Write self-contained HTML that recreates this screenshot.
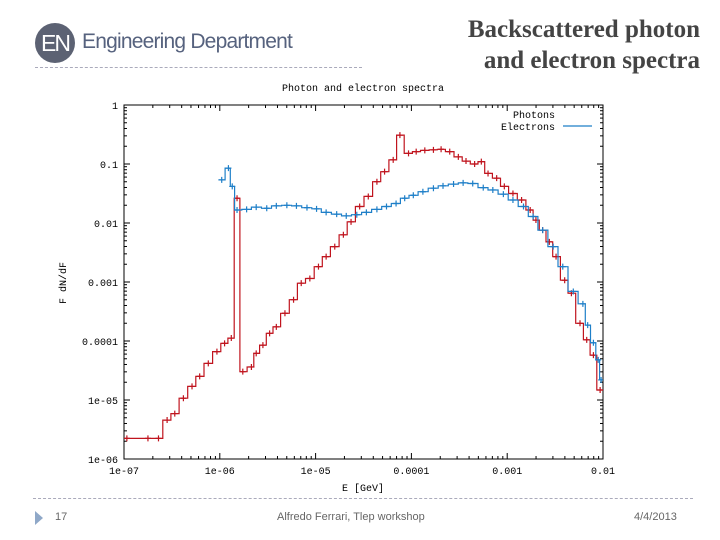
<!DOCTYPE html>
<html><head><meta charset="utf-8">
<style>
body{margin:0;width:720px;height:540px;background:#fff;position:relative;overflow:hidden;font-family:"Liberation Sans",sans-serif}
.abs{position:absolute}
</style></head><body>
<div class="abs" style="left:35px;top:23px;width:40px;height:40px;border-radius:50%;background:#5c6273;color:#fff;font-size:23px;line-height:40px;text-align:center;letter-spacing:-2px">EN</div>
<div class="abs" style="left:82px;top:30px;font-size:21px;color:#56627e;letter-spacing:-0.8px">Engineering Department</div>
<div class="abs" style="left:35px;top:67px;width:327px;border-top:1px dashed #aab"></div>
<div class="abs" style="right:20px;top:14px;text-align:right;font-family:'Liberation Serif',serif;font-weight:bold;font-size:25px;line-height:31px;color:#444">Backscattered photon<br>and electron spectra</div>

<svg class="abs" style="left:0;top:0" width="720" height="540" id="chart"><defs><clipPath id="pc"><rect x="124" y="105" width="479" height="354"/></clipPath></defs></svg>

<div class="abs" style="left:33px;top:498px;width:660px;border-top:1px dashed #aab"></div>
<div class="abs" style="left:35px;top:511px;width:0;height:0;border-left:8px solid #8fa8c8;border-top:7px solid transparent;border-bottom:7px solid transparent"></div>
<div class="abs" style="left:55px;top:511px;font-size:11px;color:#666">17</div>
<div class="abs" style="left:277px;top:511px;font-size:11px;color:#666">Alfredo Ferrari, Tlep workshop</div>
<div class="abs" style="left:634px;top:511px;font-size:11px;color:#666">4/4/2013</div>

<script>
// data: log10(E [GeV]) and log10(F dN/dF)
const photonLogE=[-6.97,-6.75,-6.64,-6.55,-6.47,-6.38,-6.29,-6.21,-6.12,-6.03,-5.95,-5.88,-5.82,-5.76,-5.67,-5.62,-5.55,-5.48,-5.41,-5.32,-5.23,-5.15,-5.06,-4.97,-4.89,-4.8,-4.71,-4.63,-4.54,-4.45,-4.36,-4.28,-4.19,-4.12,-4.03,-3.95,-3.86,-3.77,-3.69,-3.6,-3.51,-3.43,-3.34,-3.27,-3.2,-3.11,-3.03,-2.94,-2.85,-2.76,-2.7,-2.63,-2.56,-2.49,-2.4,-2.33,-2.24,-2.17,-2.1,-2.03];
const photonLogF=[-5.65,-5.65,-5.65,-5.34,-5.23,-4.97,-4.77,-4.6,-4.38,-4.18,-4.04,-3.95,-1.58,-4.52,-4.44,-4.21,-4.07,-3.87,-3.76,-3.53,-3.3,-3.02,-2.94,-2.74,-2.57,-2.4,-2.2,-1.98,-1.72,-1.55,-1.3,-1.13,-0.93,-0.51,-0.82,-0.79,-0.77,-0.76,-0.75,-0.79,-0.88,-0.95,-1.0,-0.96,-1.16,-1.24,-1.38,-1.5,-1.61,-1.78,-1.95,-2.12,-2.32,-2.57,-2.97,-3.19,-3.7,-3.98,-4.24,-4.83];
const electronLogE=[-5.98,-5.91,-5.87,-5.82,-5.72,-5.62,-5.51,-5.41,-5.3,-5.2,-5.09,-4.99,-4.89,-4.78,-4.68,-4.57,-4.47,-4.36,-4.26,-4.16,-4.07,-3.98,-3.88,-3.77,-3.67,-3.56,-3.46,-3.36,-3.25,-3.15,-3.04,-2.94,-2.83,-2.73,-2.63,-2.52,-2.42,-2.31,-2.21,-2.16,-2.1,-2.05,-2.02];
const electronLogF=[-1.27,-1.07,-1.38,-1.78,-1.77,-1.73,-1.75,-1.71,-1.7,-1.71,-1.74,-1.76,-1.82,-1.85,-1.88,-1.86,-1.82,-1.77,-1.72,-1.67,-1.58,-1.53,-1.47,-1.41,-1.37,-1.34,-1.32,-1.33,-1.4,-1.44,-1.51,-1.61,-1.72,-1.89,-2.12,-2.4,-2.74,-3.16,-3.37,-3.73,-4.03,-4.32,-4.66];
const xTickLabels=["1e-07","1e-06","1e-05","0.0001","0.001","0.01"];
const yTickLabels=["1e-06","1e-05","0.0001","0.001","0.01","0.1","1"];

const L=124,R=603,T=105,B=459;
const X=v=>L+(v+7)/5*(R-L);
const Y=v=>B-(v+6)/6*(B-T);
const svg=document.getElementById('chart');
const NS='http://www.w3.org/2000/svg';
function mk(tag,a,parent){const e=document.createElementNS(NS,tag);for(const k in a)e.setAttribute(k,a[k]);(parent||svg).appendChild(e);return e;}
const mono='"Liberation Mono",monospace';

let fr=mk('rect',{x:L,y:T,width:R-L,height:B-T,fill:'none',stroke:'#000','stroke-width':1});



for(let d=0;d<6;d++){
  for(let m=1;m<10;m++){
    const lv=d-6+Math.log10(m); if(lv>0)break;
    const len=m==1?6:3;const y=Y(lv);
    mk('line',{x1:L,x2:L+len,y1:y,y2:y,stroke:'#000'});
    mk('line',{x1:R,x2:R-len,y1:y,y2:y,stroke:'#000'});
  }
}
for(let d=0;d<5;d++){
  for(let m=1;m<10;m++){
    const lv=d-7+Math.log10(m);const len=m==1?6:3;const x=X(lv);
    mk('line',{x1:x,x2:x,y1:B,y2:B-len,stroke:'#000'});
    mk('line',{x1:x,x2:x,y1:T,y2:T+len,stroke:'#000'});
  }
}
yTickLabels.forEach((s,i)=>{
  const t=mk('text',{x:118,y:Y(i-6)+4,'text-anchor':'end','font-family':mono,'font-size':10,fill:'#000'});
  t.textContent=s;
  
  
});
xTickLabels.forEach((s,i)=>{
  const t=mk('text',{x:X(i-7),y:474,'text-anchor':'middle','font-family':mono,'font-size':10,fill:'#000'});
  t.textContent=s;
  
  
});
let tt=mk('text',{x:363,y:91,'text-anchor':'middle','font-family':mono,'font-size':10});tt.textContent='Photon and electron spectra';


let xt=mk('text',{x:363,y:491,'text-anchor':'middle','font-family':mono,'font-size':10});xt.textContent='E [GeV]';


let yt=mk('text',{x:0,y:0,'text-anchor':'middle','font-family':mono,'font-size':10,transform:'translate(66,283) rotate(-90)'});yt.textContent='F dN/dF';



const g=mk('g',{'clip-path':'url(#pc)'});
function series(xs,ys,color,name){
  let d='';
  for(let i=0;i<xs.length;i++){
    const x0=i==0?xs[0]-(xs[1]-xs[0])/2:(xs[i-1]+xs[i])/2;
    const x1=i==xs.length-1?Math.min(xs[i]+(xs[i]-xs[i-1])/2,-2):(xs[i]+xs[i+1])/2;
    d+=(i==0?'M':'L')+X(x0).toFixed(1)+','+Y(ys[i]).toFixed(1)+'L'+X(x1).toFixed(1)+','+Y(ys[i]).toFixed(1);
  }
  const p=mk('path',{d:d,fill:'none',stroke:color,'stroke-width':1.2},g);
  
  
  for(let i=0;i<xs.length;i++){
    const x=X(xs[i]),y=Y(ys[i]);
    const c=mk('path',{d:`M${x-3},${y}H${x+3}M${x},${y-3}V${y+3}`,stroke:color,'stroke-width':1.2},g);
    
    
  }
}
series(photonLogE,photonLogF,'#c0141e','photons');
series(electronLogE,electronLogF,'#1e7fc8','electrons');

let l1=mk('text',{x:555,y:118,'text-anchor':'end','font-family':mono,'font-size':10});l1.textContent='Photons';


let l2=mk('text',{x:555,y:130,'text-anchor':'end','font-family':mono,'font-size':10});l2.textContent='Electrons';


let ls=mk('line',{x1:563,x2:592,y1:126,y2:126,stroke:'#1e7fc8','stroke-width':1.2});


</script>
</body></html>
